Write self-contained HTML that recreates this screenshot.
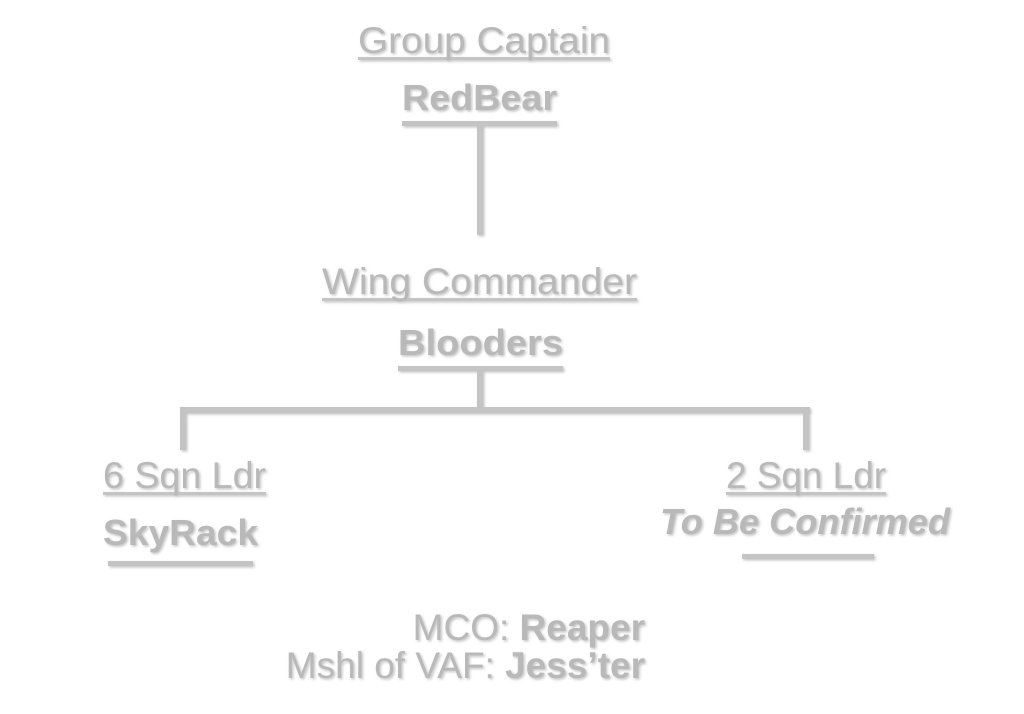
<!DOCTYPE html>
<html><head><meta charset="utf-8"><style>
html,body{margin:0;padding:0;background:#fff;}
svg{display:block;}
text{font-family:"Liberation Sans",sans-serif;fill:#b9b9b9;}
</style></head><body>
<svg width="1024" height="714" viewBox="0 0 1024 714" xmlns="http://www.w3.org/2000/svg">
<defs><filter id="s" x="-5%" y="-20%" width="110%" height="140%"><feDropShadow dx="1.5" dy="1.5" stdDeviation="1.2" flood-color="#888" flood-opacity="0.5"/></filter></defs>
<g filter="url(#s)">
<g fill="#c4c4c4">
<rect x="358" y="57" width="252" height="3"/>
<rect x="402" y="121" width="155" height="5"/>
<rect x="477" y="124" width="6" height="111"/>
<rect x="322" y="298" width="315" height="3"/>
<rect x="398" y="366" width="165" height="5"/>
<rect x="477" y="369" width="6" height="41"/>
<rect x="180" y="407" width="630" height="6"/>
<rect x="180" y="407" width="6" height="43"/>
<rect x="803" y="407" width="6" height="43"/>
<rect x="103" y="492" width="163" height="3"/>
<rect x="108" y="561" width="145" height="5"/>
<rect x="726" y="492" width="160" height="3"/>
<rect x="742" y="554" width="132" height="5"/>
</g>
<text x="358" y="53" font-size="37" textLength="252" lengthAdjust="spacingAndGlyphs">Group Captain</text>
<text x="402" y="110" font-size="36" font-weight="bold" textLength="155" lengthAdjust="spacingAndGlyphs">RedBear</text>
<text x="322" y="294" font-size="37" textLength="315" lengthAdjust="spacingAndGlyphs">Wing Commander</text>
<text x="398" y="355" font-size="36" font-weight="bold" textLength="165" lengthAdjust="spacingAndGlyphs">Blooders</text>
<text x="103" y="488" font-size="37" textLength="163" lengthAdjust="spacingAndGlyphs">6 Sqn Ldr</text>
<text x="103" y="545" font-size="36" font-weight="bold" textLength="155" lengthAdjust="spacingAndGlyphs">SkyRack</text>
<text x="726" y="488" font-size="37" textLength="160" lengthAdjust="spacingAndGlyphs">2 Sqn Ldr</text>
<text x="660" y="534" font-size="36" font-weight="bold" font-style="italic" textLength="290" lengthAdjust="spacingAndGlyphs">To Be Confirmed</text>
<text x="645" y="640" font-size="37" text-anchor="end"><tspan>MCO: </tspan><tspan font-weight="bold">Reaper</tspan></text>
<text x="645" y="678" font-size="37" text-anchor="end"><tspan>Mshl of VAF: </tspan><tspan font-weight="bold">Jess’ter</tspan></text>
</g>
</svg>
</body></html>
